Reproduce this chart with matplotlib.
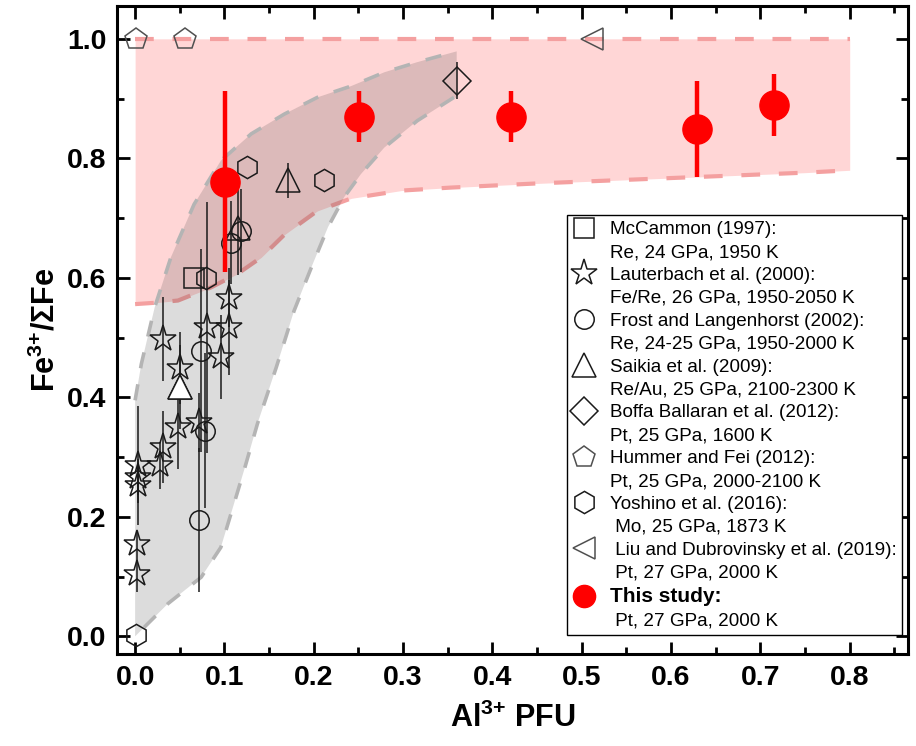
import numpy as np
import matplotlib.pyplot as plt
from matplotlib.lines import Line2D

plt.rcParams['font.family'] = ['Liberation Sans', 'DejaVu Sans']
plt.rcParams['mathtext.fontset'] = 'custom'
plt.rcParams['mathtext.rm'] = 'Liberation Sans'
plt.rcParams['mathtext.bf'] = 'Liberation Sans:bold'

# --- data ---
# McCammon (1997)
mc_x = [0.066]
mc_y = [0.600]
# Lauterbach et al. (2000)
la_x = [0.105, 0.105, 0.081, 0.031, 0.096, 0.050, 0.048, 0.072, 0.031, 0.028, 0.003, 0.003, 0.003, 0.002, 0.002]
la_y = [0.567, 0.517, 0.517, 0.498, 0.467, 0.449, 0.350, 0.358, 0.317, 0.286, 0.286, 0.266, 0.253, 0.155, 0.105]
la_e = [0.05, 0.08, 0.21, 0.07, 0.07, 0.06, 0.07, 0.05, 0.06, 0.04, 0.10, 0.03, 0.03, 0.02, 0.03]
# Frost and Langenhorst (2002)
fl_x = [0.074, 0.078, 0.072, 0.107, 0.119]
fl_y = [0.478, 0.344, 0.195, 0.659, 0.679]
fl_e = [0.17, 0.13, 0.12, 0.07, 0.07]
# Saikia et al. (2009)
sa_x = [0.050, 0.115, 0.171]
sa_y = [0.417, 0.684, 0.763]
sa_e = [0.07, 0.08, 0.03]
# Boffa Ballaran et al. (2012)
bb_x = [0.360]
bb_y = [0.930]
bb_e = [0.031]
# Hummer and Fei (2012)
hf_x = [0.001, 0.056]
hf_y = [1.0, 1.0]
# Yoshino et al. (2016)
yo_x = [0.001, 0.079, 0.125, 0.212]
yo_y = [0.003, 0.599, 0.785, 0.763]
# Liu and Dubrovinsky et al. (2019)
ld_x = [0.512]
ld_y = [1.0]
# This study
ts_x = [0.101, 0.251, 0.421, 0.629, 0.715]
ts_y = [0.761, 0.870, 0.870, 0.849, 0.889]
ts_e = [0.152, 0.042, 0.042, 0.081, 0.052]

# shaded fields
pink_x = [0.0, 0.02, 0.048, 0.085, 0.115, 0.141, 0.167, 0.204, 0.242, 0.298, 0.353, 0.45, 0.55, 0.65, 0.75, 0.8]
pink_lo = [0.556, 0.558, 0.562, 0.584, 0.607, 0.634, 0.672, 0.712, 0.733, 0.746, 0.751, 0.758, 0.764, 0.770, 0.776, 0.780]
pink_hi = 1.0
grey_up_x = [0.0, 0.007, 0.022, 0.040, 0.066, 0.096, 0.130, 0.167, 0.204, 0.242, 0.279, 0.316, 0.360]
grey_up_y = [0.395, 0.456, 0.551, 0.634, 0.723, 0.796, 0.841, 0.874, 0.902, 0.921, 0.944, 0.961, 0.979]
grey_lo_x = [0.360, 0.357, 0.316, 0.279, 0.253, 0.234, 0.216, 0.198, 0.178, 0.158, 0.137, 0.122, 0.096, 0.074, 0.037, 0.0]
grey_lo_y = [0.900, 0.902, 0.863, 0.818, 0.774, 0.735, 0.685, 0.620, 0.545, 0.450, 0.356, 0.278, 0.149, 0.099, 0.055, 0.0]

labels = [
    ('McCammon (1997):', 'Re, 24 GPa, 1950 K'),
    ('Lauterbach et al. (2000):', 'Fe/Re, 26 GPa, 1950-2050 K'),
    ('Frost and Langenhorst (2002):', 'Re, 24-25 GPa, 1950-2000 K'),
    ('Saikia et al. (2009):', 'Re/Au, 25 GPa, 2100-2300 K'),
    ('Boffa Ballaran et al. (2012):', 'Pt, 25 GPa, 1600 K'),
    ('Hummer and Fei (2012):', 'Pt, 25 GPa, 2000-2100 K'),
    ('Yoshino et al. (2016):', ' Mo, 25 GPa, 1873 K'),
    (' Liu and Dubrovinsky et al. (2019):', ' Pt, 27 GPa, 2000 K'),
    ('This study:', ' Pt, 27 GPa, 2000 K'),
]

fig = plt.figure(figsize=(9.16, 7.46), dpi=100)
ax = fig.add_axes([0.128, 0.123, 0.863, 0.869])

# fields
ax.fill_between(pink_x, pink_lo, pink_hi, color='#ffd6d6', lw=0, zorder=1)
ax.plot(pink_x, pink_lo, color='#f4a0a0', lw=3, dashes=(4.5, 4.5), zorder=2)
ax.plot([pink_x[0], pink_x[-1]], [pink_hi, pink_hi], color='#f4a0a0', lw=3, dashes=(4.5, 4.5), zorder=2)
ax.fill(grey_up_x + grey_lo_x, grey_up_y + grey_lo_y, color='#282828', alpha=0.16, lw=0, zorder=2)
ax.plot(grey_up_x, grey_up_y, color='#b4b4b4', lw=2.6, dashes=(4.5, 4.5), zorder=3)
ax.plot(grey_lo_x[1:], grey_lo_y[1:], color='#b4b4b4', lw=2.6, dashes=(4.5, 4.5), zorder=3)

# error bars
eb = dict(fmt='none', ecolor='#1a1a1a', elinewidth=1.1, capsize=0, zorder=4)
ax.errorbar(la_x, la_y, yerr=la_e, **eb)
ax.errorbar(fl_x, fl_y, yerr=fl_e, **eb)
ax.errorbar(sa_x, sa_y, yerr=sa_e, **eb)
ax.errorbar(bb_x, bb_y, yerr=bb_e, **eb)
ax.errorbar(ts_x, ts_y, yerr=ts_e, fmt='none', ecolor='red', elinewidth=3.2, capsize=0, zorder=6)

mk = dict(ls='none', mfc='none', mec='#1a1a1a', mew=1.1, zorder=5)
h1, = ax.plot(mc_x, mc_y, marker='s', ms=14, **mk)
h2, = ax.plot(la_x, la_y, marker='*', ms=20, **mk)
h3, = ax.plot(fl_x, fl_y, marker='o', ms=14, **mk)
h4, = ax.plot(sa_x, sa_y, marker='^', ms=17, **mk)
ax.plot(sa_x[:1], sa_y[:1], marker='^', ms=17, ls='none', mfc='white', mec='#1a1a1a', mew=1.1, zorder=5)
h5, = ax.plot(bb_x, bb_y, marker='D', ms=14, **mk)
h6, = ax.plot(hf_x, hf_y, marker='p', ms=16, ls='none', mfc='none', mec='#505050', mew=1.1, zorder=5)
h7, = ax.plot(yo_x, yo_y, marker='h', ms=16, **mk)
h8, = ax.plot(ld_x, ld_y, marker='<', ms=16, ls='none', mfc='none', mec='#505050', mew=1.1, zorder=5)
ax.plot(ts_x, ts_y, marker='o', ms=21, ls='none', color='red', zorder=7)
h9 = Line2D([], [], marker='o', ms=16, ls='none', color='red')

handles = []
texts = []
blank = Line2D([], [], ls='none', marker='none')
for h, (l1, l2) in zip([h1, h2, h3, h4, h5, h6, h7, h8, h9], labels):
    handles += [h, blank]
    texts += [l1, l2]

leg = ax.legend(handles, texts, loc='upper left', bbox_to_anchor=(0.569, 0.677),
                borderaxespad=0, fontsize=13.6, labelspacing=0.3, handlelength=1.2,
                handletextpad=0.75, borderpad=0.3, frameon=True, fancybox=False,
                framealpha=1, edgecolor='black')
leg.get_frame().set_linewidth(1.0)
leg.get_texts()[16].set_fontweight('bold')
leg.get_texts()[16].set_fontsize(15)

ax.set_xlim(-0.02, 0.865)
ax.set_ylim(-0.03, 1.055)
ax.set_xticks(np.arange(0, 0.81, 0.1))
ax.set_xticks(np.arange(0.05, 0.86, 0.1), minor=True)
ax.set_yticks(np.arange(0, 1.01, 0.2))
ax.set_yticks(np.arange(0.1, 1.01, 0.2), minor=True)
ax.xaxis.set_major_formatter(plt.FormatStrFormatter('%.1f'))
ax.yaxis.set_major_formatter(plt.FormatStrFormatter('%.1f'))
ax.tick_params(which='both', direction='in', top=True, right=True, width=2)
ax.tick_params(which='major', length=9, labelsize=20.5, pad=8)
ax.tick_params(which='minor', length=5)
for t in ax.get_xticklabels() + ax.get_yticklabels():
    t.set_fontweight('bold')
for s in ax.spines.values():
    s.set_linewidth(2.2)

ax.set_xlabel(r'Al$^{\mathbf{3{+}}}$ PFU', fontsize=22, fontweight='bold', labelpad=8)
ax.set_ylabel(r'Fe$^{\mathbf{3{+}}}$/ΣFe', fontsize=22, fontweight='bold', labelpad=4)

fig.savefig('out.png', dpi=100)
